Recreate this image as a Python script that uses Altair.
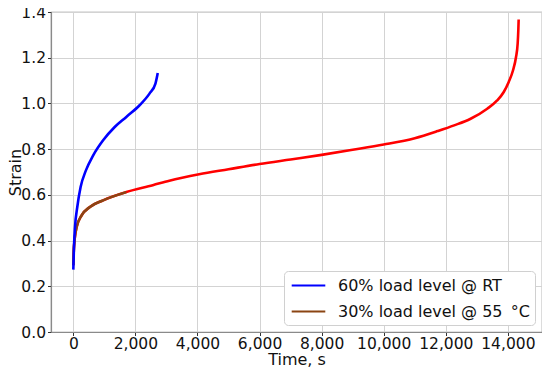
import altair as alt
import pandas as pd

# Data
blue_t = [0, 21, 54, 128, 235, 406, 640, 960, 1334, 1707, 2134, 2454, 2646, 2720]
blue_s = [0.273, 0.372, 0.459, 0.547, 0.634, 0.707, 0.773, 0.839, 0.897, 0.941, 0.992, 1.043, 1.087, 1.133]

red_t = [0, 21, 107, 267, 534, 960, 1707, 2560, 3094, 4053, 5000, 6000, 7000, 8000, 9000, 10000, 11000,
         11734, 12269, 12800, 13334, 13654, 13867, 14027, 14166, 14262, 14315, 14336, 14347]
red_s = [0.292, 0.372, 0.459, 0.51, 0.547, 0.576, 0.612, 0.642, 0.662, 0.69, 0.712, 0.735, 0.755, 0.775,
         0.797, 0.82, 0.848, 0.879, 0.904, 0.933, 0.977, 1.013, 1.05, 1.094, 1.145, 1.203, 1.262, 1.32, 1.367]

brown_t = [0, 21, 107, 267, 534, 960, 1707]
brown_s = [0.292, 0.372, 0.459, 0.51, 0.547, 0.576, 0.612]

labels = ["60% load level @ RT", "30% load level @ 55 \u2009\u00b0C"]
colors = ["#0000ff", "#8b4513"]

blue_df = pd.DataFrame({"t": blue_t, "s": blue_s, "series": labels[0], "o": range(len(blue_t))})
brown_df = pd.DataFrame({"t": brown_t, "s": brown_s, "series": labels[1], "o": range(len(brown_t))})
red_df = pd.DataFrame({"t": red_t, "s": red_s, "o": range(len(red_t))})

FONT = "DejaVu Sans"

x_enc = alt.X("t:Q", scale=alt.Scale(domain=[-719, 15099], nice=False, zero=False),
              axis=alt.Axis(title="Time, s", format=",d", values=list(range(0, 14001, 2000))))
y_enc = alt.Y("s:Q", scale=alt.Scale(domain=[0, 1.4], nice=False),
              axis=alt.Axis(title="Strain", format=".1f", values=[0, 0.2, 0.4, 0.6, 0.8, 1.0, 1.2, 1.4]))

color_scale = alt.Scale(domain=labels, range=colors)

red = alt.Chart(red_df).mark_line(color="#ff0000", strokeWidth=2.6, interpolate="monotone").encode(
    x=x_enc, y=y_enc, order="o:Q")

brown = alt.Chart(brown_df).mark_line(strokeWidth=2.6, interpolate="monotone").encode(
    x=x_enc, y=y_enc, order="o:Q",
    color=alt.Color("series:N", scale=color_scale, title=None,
                    legend=alt.Legend(orient="none", legendX=233, legendY=259,
                                      symbolType="M-2.1,0H2.1", symbolSize=256, symbolStrokeWidth=2.2,
                                      symbolOffset=10,
                                      labelFontSize=16, labelFont=FONT, labelColor="#111", labelLimit=0,
                                      padding=5, rowPadding=8, fillColor="white",
                                      strokeColor="#d0d0d0", cornerRadius=4, labelOffset=20)))

blue = alt.Chart(blue_df).mark_line(strokeWidth=2.6, interpolate="monotone").encode(
    x=x_enc, y=y_enc, order="o:Q",
    color=alt.Color("series:N", scale=color_scale))

chart = alt.layer(red, brown, blue).properties(
    width=491, height=320,
    autosize=alt.AutoSizeParams(type="none"),
    padding={"left": 43, "top": 4, "right": 0, "bottom": 35},
).configure_view(stroke="#8a8a8a", strokeWidth=1.2).configure_axis(
    labelFont=FONT, titleFont=FONT, labelFontSize=15.5, titleFontSize=16,
    labelColor="#111", titleColor="#111", titleFontWeight="normal",
    gridColor="#d3d3d3", gridWidth=1, domainColor="#8a8a8a", domainWidth=1.2,
    tickColor="#333", tickSize=3.5,
).configure_axisX(titlePadding=-0.5, labelPadding=1).configure_axisY(titlePadding=-3, labelPadding=2)

chart.save("out.html", embed_options={"renderer": "svg", "actions": False})
